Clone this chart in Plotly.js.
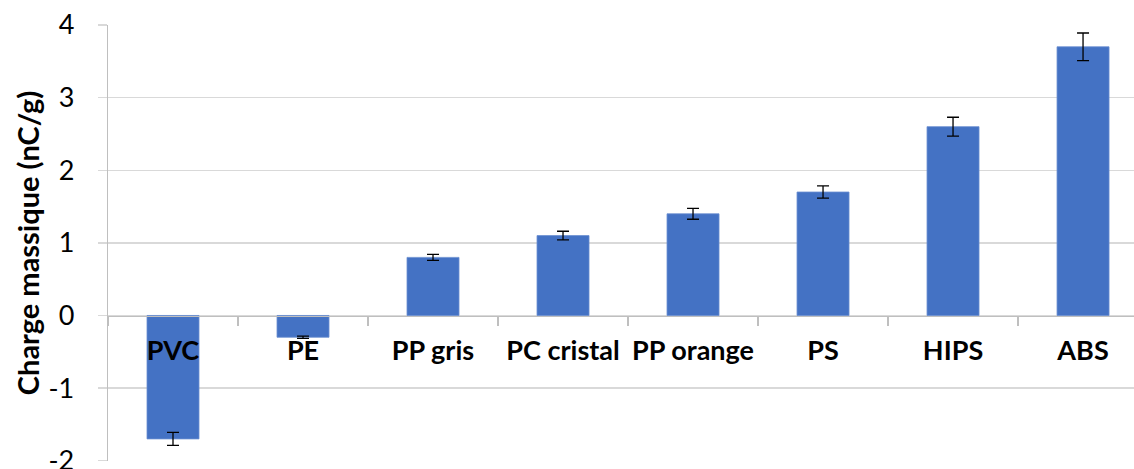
<!DOCTYPE html>
<html>
<head>
<meta charset="utf-8">
<script src="https://cdn.plot.ly/plotly-3.0.1.min.js"></script>
<style>html,body{margin:0;padding:0;background:#fff;}#chart{width:1134px;height:469px;}</style>
</head>
<body>
<div id="chart"></div>
<script>
const categories = ["PVC", "PE", "PP gris", "PC cristal", "PP orange", "PS", "HIPS", "ABS"];
const values = [-1.7, -0.3, 0.8, 1.1, 1.4, 1.7, 2.6, 3.7];
const errors = [0.09, 0.015, 0.04, 0.06, 0.075, 0.085, 0.13, 0.19];
const yTickVals = [-2, -1, 0, 1, 2, 3, 4];
const yTitle = "Charge massique (nC/g)";

const FONT = "Lato, 'Open Sans', sans-serif";

const trace = {
  type: "bar",
  x: categories,
  y: values,
  width: 0.4,
  marker: {color: "#4472C4", line: {color: "#6a8ed0", width: 0.8}},
  error_y: {type: "data", array: errors, visible: true, color: "#000000", thickness: 1.3, width: 6},
  hoverinfo: "x+y"
};

// Invisible helper trace on the category axis drawn at y = 0
const helper = {
  type: "bar", x: categories, y: categories.map(() => 0), xaxis: "x2", yaxis: "y",
  marker: {color: "rgba(0,0,0,0)"}, showlegend: false, hoverinfo: "skip"
};

const layout = {
  width: 1134, height: 469,
  margin: {l: 108, r: 0, t: 25, b: 8, pad: 0},
  paper_bgcolor: "#ffffff", plot_bgcolor: "#ffffff",
  showlegend: false,
  bargap: 0.6,
  xaxis: {
    type: "category",
    range: [-0.5, 7.392],
    showticklabels: false,
    ticks: "",
    showgrid: false,
    zeroline: false,
    showline: false
  },
  xaxis2: {
    type: "category",
    overlaying: "x",
    matches: "x",
    anchor: "free",
    position: 0.3336,
    side: "bottom",
    range: [-0.5, 7.392],
    tickangle: 0,
    showline: true, linecolor: "#bfbfbf", linewidth: 1.3,
    ticks: "outside", tickson: "boundaries", ticklen: 9, tickcolor: "#bfbfbf", tickwidth: 1.3,
    showgrid: false, zeroline: false,
    ticklabelstandoff: 11,
    tickfont: {family: FONT, size: 27, color: "#000000", weight: "bold"}
  },
  yaxis: {
    range: [-2.004, 4],
    tickvals: yTickVals,
    ticktext: yTickVals.map(String),
    showgrid: true, gridcolor: "#d9d9d9", gridwidth: 1.3,
    zeroline: false,
    showline: true, linecolor: "#bfbfbf", linewidth: 1.3,
    ticks: "outside", ticklen: 9, tickcolor: "#d9d9d9", tickwidth: 1.3,
    ticklabelstandoff: 18,
    ticklabeloverflow: "allow",
    tickfont: {family: FONT, size: 27, color: "#000000"},
    title: {text: yTitle, font: {family: FONT, size: 29, color: "#000000", weight: "bold"}, standoff: 0},
    automargin: false
  }
};

Plotly.newPlot("chart", [trace, helper], layout, {displayModeBar: false, staticPlot: true});
</script>
</body>
</html>
